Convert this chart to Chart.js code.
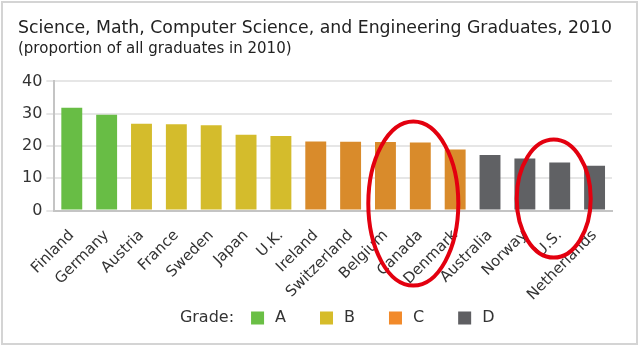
<!DOCTYPE html>
<html><head><meta charset="utf-8">
<script src="https://cdn.jsdelivr.net/npm/chart.js@4.4.1/dist/chart.umd.min.js"></script>
<style>html,body{margin:0;padding:0;background:#fff}#wrap{width:640px;height:347px;position:relative}</style>
</head><body><div id="wrap"><canvas id="c"></canvas></div>
<script>
const categories = ['Finland','Germany','Austria','France','Sweden','Japan','U.K.','Ireland','Switzerland','Belgium','Canada','Denmark','Australia','Norway','U.S.','Netherlands'];
const values = [31.8,29.7,26.9,26.7,26.4,23.5,23.1,21.4,21.3,21.2,21.1,18.9,17.2,16.1,14.9,13.9];
const grades = ['A','A','B','B','B','B','B','C','C','C','C','C','D','D','D','D'];
const gradeNames = ['A','B','C','D'];
const yTicks = [0,10,20,30,40];
const titleText = 'Science, Math, Computer Science, and Engineering Graduates, 2010';
const subtitleText = '(proportion of all graduates in 2010)';
const legendTitle = 'Grade:';

const barColors = {A:'#68bd45', B:'#d4bc2c', C:'#d98b2b', D:'#606164'};
const legendColors = {A:'#6abf45', B:'#d6bc2a', C:'#f28a2a', D:'#5f5f62'};
const FONT = 'DejaVu Sans';

const circles = [
  {category:'Canada', dx:-7, dy:-7, rx:45, ry:82},
  {category:'U.S.', dx:-6, dy:-12, rx:37, ry:59}
];

const framePlugin = {
  id:'frame',
  beforeDraw(chart){
    const c = chart.ctx; c.save(); c.fillStyle='#fff'; c.fillRect(0,0,chart.width,chart.height); c.restore();
  },
  afterDraw(chart){
    const c = chart.ctx;
    const x = chart.scales.x, y = chart.scales.y;
    c.save();
    c.strokeStyle = '#e3000f'; c.lineWidth = 4;
    circles.forEach(o => {
      const i = categories.indexOf(o.category);
      const cx = x.getPixelForValue(i) + o.dx;
      const cy = y.getPixelForValue(0) + o.dy;
      c.beginPath(); c.ellipse(cx, cy, o.rx, o.ry, 0, 0, Math.PI*2); c.stroke();
    });
    // legend
    c.font = '16px "' + FONT + '"';
    c.textBaseline = 'middle';
    c.fillStyle = '#333';
    const box = 13, gapBox = 11, gapItem = 34, gapTitle = 17;
    const tW = c.measureText(legendTitle).width;
    let total = tW + gapTitle;
    gradeNames.forEach((g, k) => { total += box + gapBox + c.measureText(g).width + (k < gradeNames.length-1 ? gapItem : 0); });
    const ca = chart.chartArea;
    let lx = (ca.left + ca.right)/2 - total/2 + 4;
    const ly = chart.height - 29;
    c.textAlign = 'left';
    c.fillText(legendTitle, lx, ly);
    lx += tW + gapTitle;
    gradeNames.forEach(g => {
      c.fillStyle = legendColors[g];
      c.fillRect(lx, ly - box/2, box, box);
      lx += box + gapBox;
      c.fillStyle = '#333';
      c.fillText(g, lx, ly);
      lx += c.measureText(g).width + gapItem;
    });
    // frame
    c.strokeStyle = '#d4d4d4'; c.lineWidth = 2;
    c.strokeRect(2, 2, chart.width - 5, chart.height - 5);
    c.restore();
  }
};

new Chart(document.getElementById('c'), {
  type:'bar',
  data:{
    labels: categories,
    datasets:[{
      data: values,
      backgroundColor: grades.map(g => barColors[g]),
      borderWidth: 0,
      barPercentage: 0.6,
      categoryPercentage: 1
    }]
  },
  options:{
    responsive:true, maintainAspectRatio:false, devicePixelRatio:1, animation:false,
    layout:{padding:{left:18, right:28, top:0, bottom:35}},
    plugins:{
      legend:{display:false},
      tooltip:{enabled:false},
      title:{display:true, text:titleText, align:'start', color:'#222', font:{family:FONT, size:17.8, weight:'normal'}, padding:{top:18, bottom:1}},
      subtitle:{display:true, text:subtitleText, align:'start', color:'#222', font:{family:FONT, size:15, weight:'normal'}, padding:{top:0, bottom:23}}
    },
    scales:{
      x:{
        grid:{display:false},
        border:{display:true, color:'#c4c4c4', width:2},
        ticks:{color:'#333', font:{family:FONT, size:15}, minRotation:45, maxRotation:45, autoSkip:false, padding:8}
      },
      y:{
        min:0, max:40,
        afterBuildTicks(axis){ axis.ticks = yTicks.map(v => ({value:v})); },
        grid:{color:'#e6e6e6', lineWidth:2, tickLength:8, drawTicks:true},
        border:{display:true, color:'#c4c4c4', width:2},
        ticks:{color:'#333', font:{family:FONT, size:16}, padding:4}
      }
    }
  },
  plugins:[framePlugin]
});
</script></body></html>
